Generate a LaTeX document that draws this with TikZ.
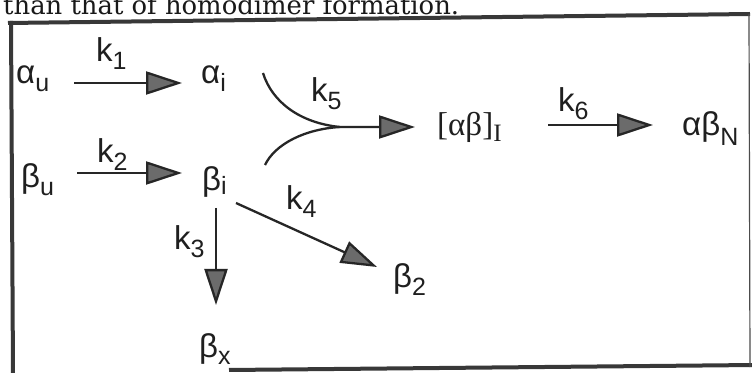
\documentclass[tikz,border=0pt]{standalone}
\usepackage{graphicx}
\usepackage{fontspec}
\setmainfont{Liberation Sans}
\newfontfamily\serfont{Liberation Serif}
\newfontfamily\topfont{DejaVu Serif}
\usetikzlibrary{arrows.meta}
\newcommand\sbs[2][8pt]{\raisebox{-#1}{\fontsize{25}{25}\selectfont #2}}
\begin{document}
\begin{tikzpicture}[x=1pt,y=1pt,
  lbl/.style={anchor=base west, inner sep=0pt, font=\fontsize{33}{33}\selectfont, text=black!88},
  rx/.style={line width=2.3pt, draw=black!85, -{Triangle[length=36pt,width=23pt,fill=black!58]}},
  curv/.style={line width=2.3pt, draw=black!85},
  frame/.style={line width=4pt, draw=black!78},
  thinframe/.style={line width=1.2pt, draw=black!70}]
\useasboundingbox (0,0) rectangle (752,372);
\fill[white] (0,0) rectangle (752,372);
% caption fragment of the page
\node[anchor=base west, inner sep=0pt, text=black!90] (toptext) at (3,357)
  {\resizebox{456pt}{!}{\topfont\fontsize{23}{23}\selectfont than that of homodimer formation.}};
% frame
\draw[frame] (8,349) -- (750,358);
\draw[frame] (11,351) -- (13,-3);
\draw[frame] (229,2) -- (755,7);
\draw[thinframe] (749,358) -- (750,5);
% species
\node[lbl] (au) at (16,288) {α\sbs{u}};
\node[lbl] (ai) at (201,288) {α\sbs{i}};
\node[lbl] (bu) at (21,184) {β\sbs{u}};
\node[lbl] (bi) at (202,181) {β\sbs[4pt]{i}};
\node[lbl] (abI) at (437,236) {\serfont[αβ]\sbs[6pt]{\serfont I}};
\node[lbl] (abN) at (682,236) {αβ\sbs[10pt]{N}};
\node[lbl] (b2) at (393,84) {β\sbs{2}};
\node[lbl] (bx) at (199,15) {β\sbs{x}};
% rate constants
\node[lbl] (k1) at (96,310) {k\sbs{1}};
\node[lbl] (k2) at (97,209) {k\sbs{2}};
\node[lbl] (k5) at (311,270) {k\sbs{5}};
\node[lbl] (k6) at (558,260) {k\sbs{6}};
\node[lbl] (k3) at (174,122) {k\sbs{3}};
\node[lbl] (k4) at (286,162) {k\sbs{4}};
% connector end points
\coordinate (k1s) at (74,289);  \coordinate (k1e) at (182,289);
\coordinate (k2s) at (77,199);  \coordinate (k2e) at (182,199);
\coordinate (k5a) at (263,299); \coordinate (k5b) at (265,207);
\coordinate (k5j) at (340,245); \coordinate (k5e) at (415,245);
\coordinate (k6s) at (548,247); \coordinate (k6e) at (653,247);
\coordinate (k3s) at (216,164); \coordinate (k3e) at (216,67);
\coordinate (k4s) at (236,169); \coordinate (k4e) at (377,105);
% arrows
\draw[rx] (k1s) -- (k1e);
\draw[rx] (k2s) -- (k2e);
\draw[rx] (k5a) .. controls (272,270) and (300,249) .. (k5j) -- (k5e);
\draw[curv] (k5b) .. controls (275,228) and (305,243) .. (k5j);
\draw[rx] (k6s) -- (k6e);
\draw[rx] (k3s) -- (k3e);
\draw[rx] (k4s) -- (k4e);
\end{tikzpicture}
\end{document}
